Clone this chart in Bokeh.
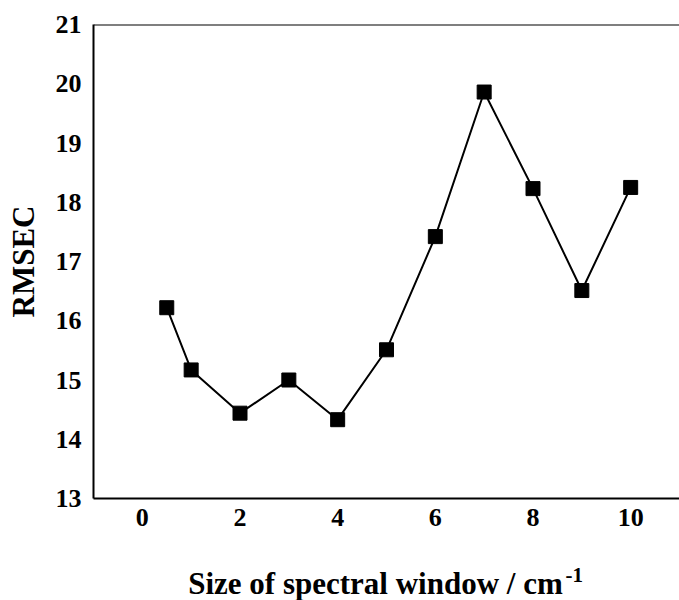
from bokeh.plotting import figure
from bokeh.models import ColumnDataSource, Range1d, FixedTicker, Span
from bokeh.layouts import column
from bokeh.core.properties import value
from bokeh.embed import file_html
from bokeh.resources import INLINE

# Data
window_size = [0.5, 1, 2, 3, 4, 5, 6, 7, 8, 9, 10]
rmsec = [16.22, 15.17, 14.44, 15.0, 14.33, 15.51, 17.42, 19.86, 18.23, 16.51, 18.25]
x_ticks = [0, 2, 4, 6, 8, 10]
y_ticks = [13, 14, 15, 16, 17, 18, 19, 20, 21]
x_title = "Size of spectral window / cm"
x_title_sup = "-1"
y_title = "RMSEC"

FONT = "Liberation Serif"

src = ColumnDataSource(dict(x=window_size, y=rmsec))

p = figure(width=679, height=540, output_backend="svg", toolbar_location=None,
           x_range=Range1d(-1, 11), y_range=Range1d(13, 21),
           min_border_left=93, min_border_right=0, min_border_top=24, min_border_bottom=42)
p.outline_line_color = None
p.grid.visible = False
p.background_fill_color = "white"
p.border_fill_color = "white"

p.line("x", "y", source=src, line_color="black", line_width=2)
p.scatter("x", "y", source=src, marker="square", size=14, fill_color="black", line_color="black")

for ax in (p.xaxis[0], p.yaxis[0]):
    ax.axis_line_width = 2
    ax.axis_line_color = "black"
    ax.major_tick_out = 0
    ax.major_tick_in = 0
    ax.minor_tick_out = 0
    ax.minor_tick_in = 0
    ax.major_label_text_font = FONT
    ax.major_label_text_font_style = "bold"
    ax.major_label_text_font_size = "26px"
    ax.major_label_text_color = "black"

p.xaxis.ticker = FixedTicker(ticks=x_ticks)
p.yaxis.ticker = FixedTicker(ticks=y_ticks)
p.xaxis.major_label_standoff = 10
p.yaxis.major_label_standoff = 12

p.yaxis.axis_label = y_title
p.yaxis.axis_label_text_font = FONT
p.yaxis.axis_label_text_font_style = "bold"
p.yaxis.axis_label_text_font_size = "31px"
p.yaxis.axis_label_text_color = "black"
p.yaxis.axis_label_standoff = 12

top_line = Span(location=21, dimension="width", line_color="black", line_width=2)
p.add_layout(top_line)

# Strip below the chart holding the x-axis title with its superscript.
# Its ranges are in page pixels (x from the left edge, y up from the strip bottom).
t = figure(frame_width=586, frame_height=60, output_backend="svg", toolbar_location=None,
           x_range=Range1d(93, 679), y_range=Range1d(0, 60),
           min_border_left=93, min_border_right=0, min_border_top=0, min_border_bottom=0,
           x_axis_location=None, y_axis_location=None)
t.outline_line_color = None
t.grid.visible = False
t.background_fill_color = "white"
t.border_fill_color = "white"
t.text(x=[375], y=[17], text=[x_title], text_align="center", text_baseline="alphabetic",
       text_font=value(FONT), text_font_style="bold", text_font_size="31px", text_color="black")
t.text(x=[565], y=[26], text=[x_title_sup], text_align="left", text_baseline="alphabetic",
       text_font=value(FONT), text_font_style="bold", text_font_size="21px", text_color="black")

layout = column(p, t, spacing=0)
open("out.html", "w").write(file_html(layout, INLINE))
